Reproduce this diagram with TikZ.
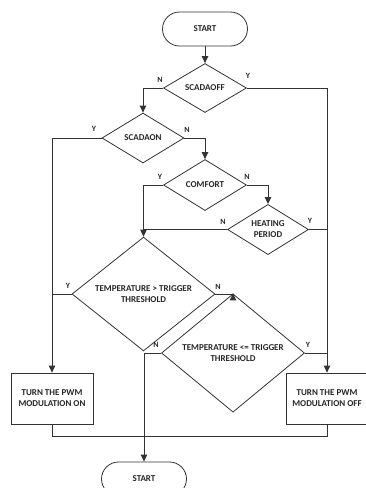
\documentclass[tikz,border=0pt]{standalone}
\usepackage{fontspec}
\setmainfont{Carlito}
\usetikzlibrary{shapes.geometric,arrows.meta}
\begin{document}
\begin{tikzpicture}[x=1pt,y=-1pt,
  every node/.style={font=\fontsize{9}{11}\selectfont\bfseries, text=black!85, align=center},
  line/.style={draw=black!80, line width=1pt},
  arr/.style={line, -{Triangle[length=7pt,width=6.5pt]}},
  term/.style={draw=black!80, line width=0.8pt, rectangle, rounded corners=17pt, minimum width=85pt, minimum height=34pt, inner sep=0pt},
  dec/.style={draw=black!80, line width=0.8pt, diamond, inner sep=0pt},
  proc/.style={draw=black!80, line width=0.8pt, rectangle, minimum width=82pt, minimum height=51pt, inner sep=0pt},
  yn/.style={font=\fontsize{8}{9}\selectfont\bfseries, inner sep=0pt}
]
\useasboundingbox (0,0) rectangle (366,488);
\node[term] (start) at (205,29) {START};
\node[dec, minimum width=83pt, minimum height=49pt] (scadaoff) at (205,88) {SCADAOFF};
\node[dec, minimum width=82pt, minimum height=50pt] (scadaon) at (143,138) {SCADAON};
\node[dec, minimum width=83pt, minimum height=51pt] (comfort) at (205,185) {COMFORT};
\node[dec, minimum width=81pt, minimum height=49pt] (heating) at (268,229.5) {HEATING\\PERIOD};
\node[dec, minimum width=143pt, minimum height=90pt] (tgt) at (143.5,294) {TEMPERATURE > TRIGGER\\THRESHOLD};
\node[dec, minimum width=143pt, minimum height=91pt] (tle) at (233,353) {TEMPERATURE <= TRIGGER\\THRESHOLD};
\node[proc] (on) at (52,398.5) {TURN THE PWM\\MODULATION ON};
\node[proc] (off) at (327,398.5) {TURN THE PWM\\MODULATION OFF};
\node[term] (end) at (144,479) {START};

\node[yn] (l1) at (160,80) {N};
\node[yn] (l2) at (248,76) {Y};
\node[yn] (l3) at (94,129) {Y};
\node[yn] (l4) at (187,130) {N};
\node[yn] (l5) at (160,177) {Y};
\node[yn] (l6) at (247,177) {N};
\node[yn] (l7) at (223,222) {N};
\node[yn] (l8) at (310,221) {Y};
\node[yn] (l9) at (68,286) {Y};
\node[yn] (l10) at (218,287) {N};
\node[yn] (l11) at (156,345) {N};
\node[yn] (l12) at (308,345) {Y};

\coordinate (bl) at (52,436);

\draw[arr] (start.south) -- (scadaoff.north);
\draw[arr] (scadaoff.west) -| (scadaon.north);
\draw[arr] (scadaoff.east) -| (off.north);
\draw[arr] (scadaon.west) -| (on.north);
\draw[arr] (scadaon.east) -| (comfort.north);
\draw[arr] (comfort.west) -| (tgt.north);
\draw[arr] (comfort.east) -| (heating.north);
\draw[line] (heating.west) -- (tgt.north |- heating.west);
\draw[line] (heating.east) -- (off.north |- heating.east);
\draw[line] (tgt.west) -- (on.north |- tgt.west);
\draw[arr] (tgt.east) -| (tle.north);
\draw[arr] (tle.west) -| (end.north);
\draw[line] (tle.east) -- (off.north |- tle.east);
\draw[line] (on.south) -- (on.south |- bl) -- (off.south |- bl) -- (off.south);
\end{tikzpicture}
\end{document}
